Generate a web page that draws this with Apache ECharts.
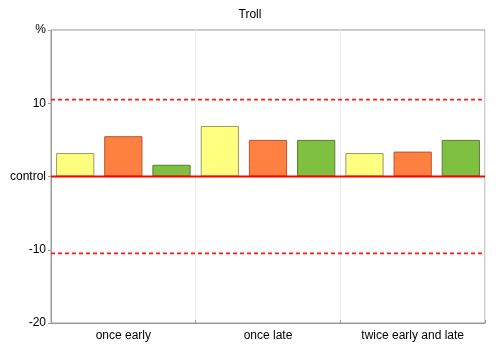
<!DOCTYPE html>
<html>
<head>
<meta charset="utf-8">
<script src="https://cdn.jsdelivr.net/npm/echarts@6/dist/echarts.min.js"></script>
<style>
  html, body { margin: 0; padding: 0; background: #fff; }
  #chart { width: 500px; height: 346px; }
</style>
</head>
<body>
<div id="chart"></div>
<script>
// Treatment timing groups along the x axis
const categories = ['once early', 'once late', 'twice early and late'];
// Change relative to control (%) for the three treatments in each group
const treatmentA = [3.2, 6.9, 3.2];
const treatmentB = [5.5, 5.0, 3.4];
const treatmentC = [1.6, 5.0, 5.0];
// Significance limits around control
const limitUpper = 10.5;
const limitLower = -10.5;
// Y tick labels
const yTickLabels = { '20': '%', '10': '10', '0': 'control', '-10': '-10', '-20': '-20' };

const font = 'Liberation Sans, Arial, sans-serif';
const chart = echarts.init(document.getElementById('chart'));

function barSeries(name, data, fill, border) {
  return {
    name: name,
    type: 'bar',
    data: data,
    barGap: '26%',
    barCategoryGap: '7%',
    itemStyle: { color: fill, borderColor: border, borderWidth: 1 },
    animation: false
  };
}

// Horizontal reference line across the full plot width (hidden 0..1 x axis)
function refLine(name, value, color, width, type) {
  return {
    name: name,
    type: 'line',
    xAxisIndex: 1,
    data: [[0, value], [1, value]],
    symbol: 'none',
    silent: true,
    lineStyle: { color: color, width: width, type: type, opacity: 1 },
    z: 5
  };
}

const seriesList = [
  barSeries('A', treatmentA, '#ffff80', '#9a9a60'),
  barSeries('B', treatmentB, '#ff8040', '#b0582a'),
  barSeries('C', treatmentC, '#80c040', '#5a7a3a'),
  refLine('upper', limitUpper, '#ff1a1a', 1.6, [4, 3]),
  refLine('lower', limitLower, '#ff1a1a', 1.6, [4, 3]),
  refLine('control', 0, '#ff0000', 2, 'solid')
];

chart.setOption({
  animation: false,
  title: {
    text: 'Troll',
    left: 'center',
    top: 4,
    textStyle: { fontFamily: font, fontSize: 12, fontWeight: 'normal', color: '#000' }
  },
  grid: {
    left: 51, right: 15, top: 30, bottom: 23,
    show: true, borderColor: '#9a9a9a', borderWidth: 1, backgroundColor: '#fff'
  },
  xAxis: [{
    type: 'category',
    data: categories,
    boundaryGap: true,
    axisLine: { onZero: false, lineStyle: { color: '#9a9a9a' } },
    axisTick: { show: true, inside: true, length: 3, lineStyle: { color: '#9a9a9a' } },
    splitLine: { show: true, lineStyle: { color: '#ececec', width: 1 } },
    axisLabel: { fontFamily: font, fontSize: 12, color: '#000', margin: 7 }
  }, {
    type: 'value',
    min: 0, max: 1,
    show: false
  }],
  yAxis: {
    type: 'value',
    min: -20, max: 20, interval: 10,
    axisLine: { show: true, lineStyle: { color: '#9a9a9a' } },
    axisTick: { show: true, length: 3, lineStyle: { color: '#9a9a9a' } },
    splitLine: { show: false },
    axisLabel: {
      fontFamily: font, fontSize: 12, color: '#000', margin: 5,
      formatter: v => yTickLabels[String(v)] ?? String(v)
    }
  },
  series: seriesList
});
</script>
</body>
</html>
